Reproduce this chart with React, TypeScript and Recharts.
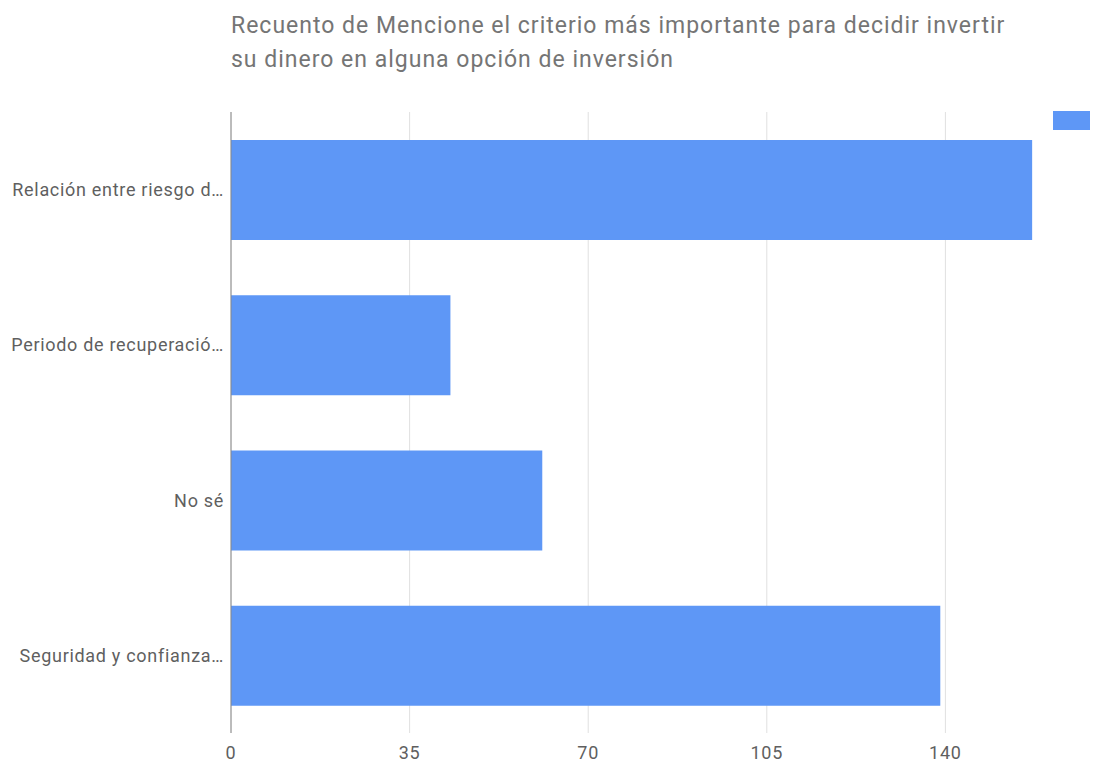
import React from 'react';
import { BarChart, Bar, XAxis, YAxis, CartesianGrid } from 'recharts';

const categories = [
    'Relación entre riesgo d…',
    'Periodo de recuperació…',
    'No sé',
    'Seguridad y confianza…',
];
const counts = [157, 43, 61, 139];
const xTicks = [0, 35, 70, 105, 140];

const data = categories.map((name, i) => ({ name, value: counts[i] }));

const BAR_COLOR = '#5e97f6';

const App: React.FC = () => {
    return (
        <div style={{ position: 'absolute', left: 0, top: 0, width: 1093, height: 762, background: '#fff', fontFamily: 'Roboto, sans-serif', overflow: 'hidden' }}>
            <div style={{ position: 'absolute', left: 231, top: 9, fontSize: 23, lineHeight: '34px', letterSpacing: 1, color: '#757575', whiteSpace: 'nowrap' }}>
                Recuento de Mencione el criterio más importante para decidir invertir<br />
                su dinero en alguna opción de inversión
            </div>
            <div style={{ position: 'absolute', left: 1053, top: 111, width: 37, height: 19, background: BAR_COLOR }} />
            <BarChart
                width={1093}
                height={762}
                data={data}
                layout="vertical"
                margin={{ top: 112, right: -31, bottom: 0, left: 0 }}
                barSize={100}
            >
                <CartesianGrid horizontal={false} stroke="#e0e0e0" />
                <XAxis
                    type="number"
                    domain={[0, 175]}
                    ticks={xTicks}
                    axisLine={false}
                    tickLine={false}
                    height={29}
                    tickMargin={7}
                    tick={{ fill: '#5f5f5f', fontSize: 18, letterSpacing: 0.8 }}
                />
                <YAxis
                    type="category"
                    dataKey="name"
                    width={231}
                    axisLine={{ stroke: '#888' }}
                    tickLine={false}
                    tickMargin={1}
                    tick={{ fill: '#5f5f5f', fontSize: 18, letterSpacing: 0.7 }}
                />
                <Bar dataKey="value" fill={BAR_COLOR} isAnimationActive={false} />
            </BarChart>
        </div>
    );
};

export default App;
